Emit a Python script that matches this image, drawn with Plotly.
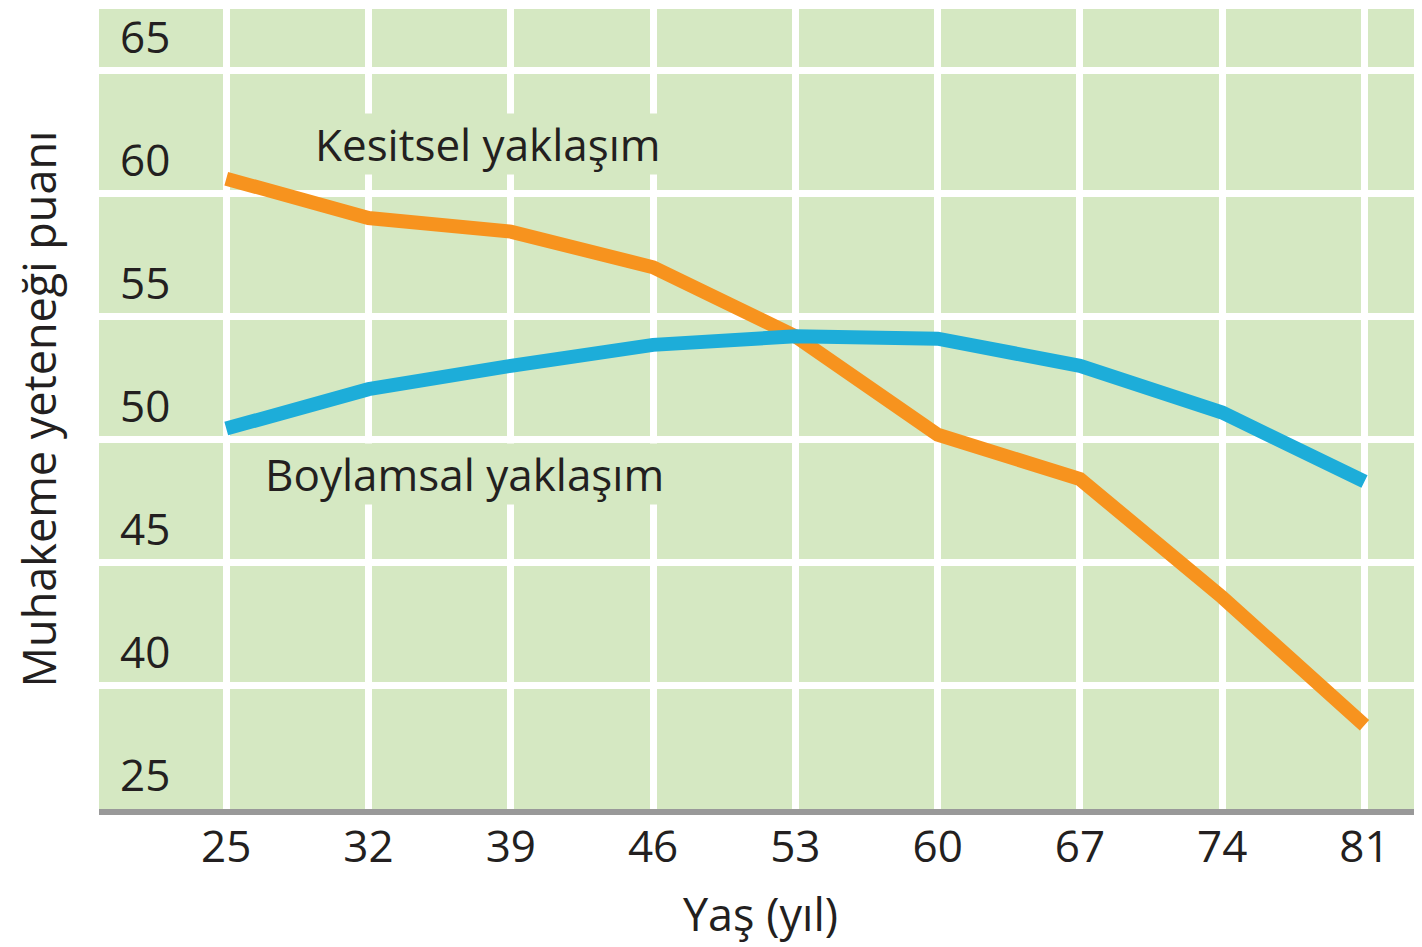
import plotly.graph_objects as go

# ages on the x axis
ages = [25, 32, 39, 46, 53, 60, 67, 74, 81]

# reasoning scores
kesitsel = [60.6, 59.0, 58.45, 57.0, 54.2, 50.2, 48.4, 43.6, 38.4]
boylamsal = [50.45, 52.05, 53.0, 53.85, 54.2, 54.1, 53.0, 51.1, 48.3]

# y grid values (bottom one is a broken axis, shown as 25)
y_tickvals = [35, 40, 45, 50, 55, 60, 65]
y_ticktext = ["25", "40", "45", "50", "55", "60", "65"]

series_names = ["Kesitsel yaklaşım", "Boylamsal yaklaşım"]

green = "#D5E8C2"
orange = "#F7931E"
blue = "#1DADD9"
ink = "#231F20"
font_family = "Open Sans"

fig = go.Figure()
fig.add_scatter(
    x=ages,
    y=kesitsel,
    name=series_names[0],
    mode="lines",
    line=dict(color=orange, width=14),
)
fig.add_scatter(
    x=ages,
    y=boylamsal,
    name=series_names[1],
    mode="lines",
    line=dict(color=blue, width=14),
)

# line labels sit on a green box that hides the grid
fig.add_annotation(
    x=37.9, y=62.0, text=series_names[0], showarrow=False,
    font=dict(size=44, color=ink, family=font_family),
    bgcolor=green, borderpad=0,
)
fig.add_annotation(
    x=36.7, y=48.62, text=series_names[1], showarrow=False,
    font=dict(size=44, color=ink, family=font_family),
    bgcolor=green, borderpad=0,
)

# page body adds an 8px margin, so the figure is 8px smaller than the window
fig.update_layout(
    width=1414,
    height=939,
    margin=dict(l=91, r=0, t=1, b=138),
    plot_bgcolor=green,
    paper_bgcolor="white",
    showlegend=False,
    font=dict(family=font_family, color=ink, size=44),
    xaxis=dict(
        range=[18.74, 83.83],
        tickvals=ages,
        showgrid=True,
        gridcolor="white",
        gridwidth=7,
        zeroline=False,
        showline=True,
        linecolor="#999999",
        linewidth=6,
        ticks="",
        automargin=False,
        ticklabelstandoff=-6,
        tickfont=dict(size=44, color=ink),
        title=dict(text="Yaş (yıl)", font=dict(size=45, color=ink), standoff=28),
    ),
    yaxis=dict(
        range=[35, 67.49],
        tickvals=y_tickvals,
        ticktext=y_ticktext,
        showgrid=True,
        gridcolor="white",
        gridwidth=7,
        zeroline=False,
        showline=False,
        ticks="",
        automargin=False,
        ticklabelposition="inside",
        ticklabeloverflow="allow",
        ticklabelshift=-33,
        ticklabelstandoff=18,
        tickfont=dict(size=44, color=ink),
        title=dict(text="Muhakeme yeteneği puanı", font=dict(size=45, color=ink), standoff=62),
    ),
)

fig.write_html("out.html")
